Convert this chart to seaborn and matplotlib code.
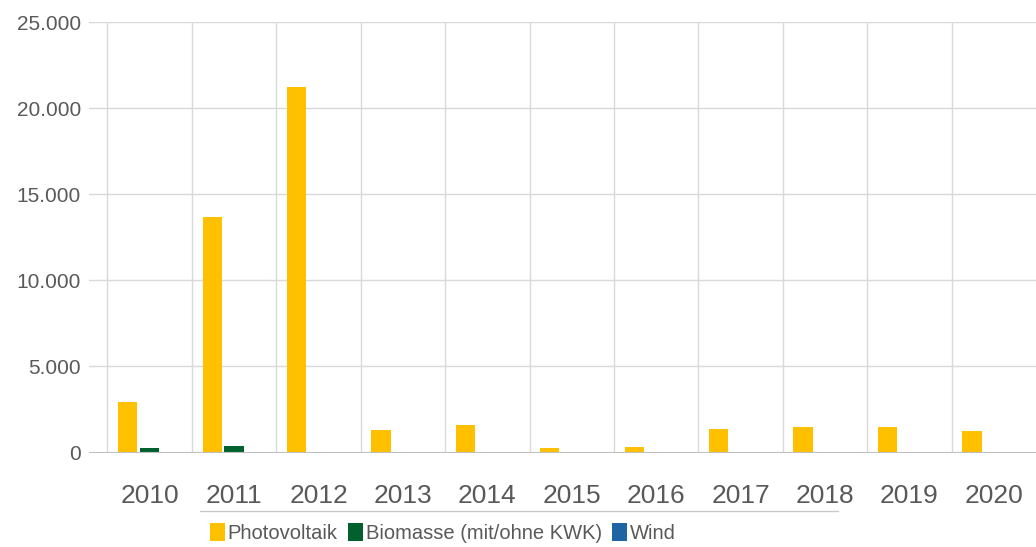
import numpy as np
import pandas as pd
import matplotlib
matplotlib.use("Agg")
import matplotlib.pyplot as plt
import seaborn as sns
from matplotlib.ticker import FixedLocator, FixedFormatter, FuncFormatter, NullFormatter
from matplotlib.lines import Line2D

# ---- data ----
years = ["2010", "2011", "2012", "2013", "2014", "2015", "2016", "2017", "2018", "2019", "2020"]
photovoltaik = [2950, 13700, 21200, 1310, 1600, 240, 340, 1370, 1460, 1500, 1250]
biomasse = [280, 350, 0, 40, 0, 0, 0, 0, 0, 0, 0]
wind = [0, 0, 0, 0, 0, 0, 0, 0, 0, 0, 0]
series_names = ["Photovoltaik", "Biomasse (mit/ohne KWK)", "Wind"]
series_colors = ["#FFC000", "#00612E", "#1F65A3"]
y_ticks = [0, 5000, 10000, 15000, 20000, 25000]

rows = []
for name, vals in zip(series_names, [photovoltaik, biomasse, wind]):
    for yr, v in zip(years, vals):
        rows.append({"Jahr": yr, "Quelle": name, "Wert": v})
df = pd.DataFrame(rows)

sns.set_style("white")
plt.rcParams['font.family'] = ['Liberation Sans', 'DejaVu Sans']

W, H = 1036, 547
fig = plt.figure(figsize=(W / 100, H / 100), dpi=100)
ax_left, ax_right = 89, 1036
ax_top, ax_bottom = 22, 452.5
ax = fig.add_axes([ax_left / W, 1 - ax_bottom / H, (ax_right - ax_left) / W, (ax_bottom - ax_top) / H])

sns.barplot(data=df, x="Jahr", y="Wert", hue="Quelle", order=years, hue_order=series_names,
            palette=dict(zip(series_names, series_colors)), width=0.78, gap=0.12,
            saturation=1, linewidth=0, errorbar=None, ax=ax, zorder=2)

handles, labels = ax.get_legend_handles_labels()
if ax.get_legend() is not None:
    ax.get_legend().remove()

# axes styling
for s in ax.spines.values():
    s.set_visible(False)
ax.set_xlabel("")
ax.set_ylabel("")
ax.set_ylim(0, 25000)
ax.set_yticks(y_ticks)
ax.yaxis.set_major_formatter(FuncFormatter(lambda v, p: f"{v:,.0f}".replace(",", ".")))
ax.tick_params(axis="y", length=0, pad=5.8, labelsize=15, labelcolor="#595959")

cat_px = (1036.5 - 107.5) / 11
ax.set_xlim(-0.5 - (107.5 - ax_left) / cat_px, 10.5)
ax.xaxis.set_major_locator(FixedLocator(np.arange(-0.5, 10.5, 1.0)))
ax.xaxis.set_major_formatter(NullFormatter())
ax.xaxis.set_minor_locator(FixedLocator(np.arange(len(years))))
ax.xaxis.set_minor_formatter(FixedFormatter(years))
ax.tick_params(axis="x", which="major", length=14.4, width=1, color="#d9d9d9", direction="out")
ax.tick_params(axis="x", which="minor", length=0, pad=23, labelsize=19, labelcolor="#595959")

ax.grid(axis="y", color="#d9d9d9", linewidth=1, zorder=0)
ax.grid(axis="x", which="major", color="#d9d9d9", linewidth=1, zorder=0)
ax.set_axisbelow(True)
ax.axhline(0, color="#bfbfbf", linewidth=1.5, zorder=3)

# legend
fig.legend(handles, labels, loc="center", bbox_to_anchor=(443 / W, 1 - 533 / H), ncol=3,
           frameon=False, fontsize=14.5, handlelength=0.75, handleheight=1.0,
           handletextpad=0.15, columnspacing=0.5, labelcolor="#595959", borderpad=0)

fig.add_artist(Line2D([200 / W, 838 / W], [1 - 511 / H, 1 - 511 / H], transform=fig.transFigure,
                      color="#c8c8c8", linewidth=1))

fig.savefig("out.png", dpi=100)
